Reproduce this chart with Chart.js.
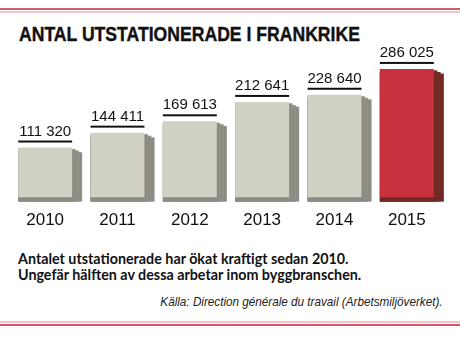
<!DOCTYPE html>
<html>
<head>
<meta charset="utf-8">
<script src="https://cdn.jsdelivr.net/npm/chart.js@4.4.0/dist/chart.umd.min.js"></script>
<style>
  html, body { margin: 0; padding: 0; background: #fff; }
  #wrap { position: relative; width: 460px; height: 337px; overflow: hidden; }
  .rule { position: absolute; left: 0; width: 460px; }
  #title {
    position: absolute; left: 19px; top: 24px; line-height: 20px;
    font-family: "Liberation Sans", Arial, sans-serif;
    font-weight: bold; font-size: 20px; color: #111; white-space: nowrap;
    transform: scaleX(0.88); transform-origin: left top;
    -webkit-text-stroke: 0.4px #111;
  }
  #chartBox { position: absolute; left: 0; top: 20px; width: 460px; height: 218px; }
  #note {
    position: absolute; left: 18px; top: 251px; line-height: 15.5px;
    font-family: Lato, sans-serif; font-weight: bold; font-size: 14.3px; color: #111;
  }
  #source {
    position: absolute; right: 17px; top: 294px; line-height: 16px;
    font-family: "Liberation Sans", Arial, sans-serif; font-style: italic;
    font-size: 13px; color: #222; white-space: nowrap;
    transform: scaleX(0.9); transform-origin: right top;
  }
</style>
</head>
<body>
<div id="wrap">
  <div class="rule" style="top:8px;height:1.5px;background:#cf5d69"></div>
  <div class="rule" style="top:11px;height:1.5px;background:#f2c3c9"></div>
  <div id="title">ANTAL UTSTATIONERADE I FRANKRIKE</div>
  <div id="chartBox"><canvas id="c"></canvas></div>
  <div id="note">Antalet utstationerade har ökat kraftigt sedan 2010.<br>Ungefär hälften av dessa arbetar inom byggbranschen.</div>
  <div id="source">Källa: Direction générale du travail (Arbetsmiljöverket).</div>
  <div class="rule" style="top:321px;height:1.5px;background:#f2c3c9"></div>
  <div class="rule" style="top:324px;height:1.5px;background:#cf5d69"></div>
</div>
<script>
const years = ['2010', '2011', '2012', '2013', '2014', '2015'];
const counts = [111320, 144411, 169613, 212641, 228640, 286025];
const countLabels = ['111 320', '144 411', '169 613', '212 641', '228 640', '286 025'];
const faceColors = ['#d1d0c4', '#d1d0c4', '#d1d0c4', '#d1d0c4', '#d1d0c4', '#c8323f'];
const backColors = ['#8c8b81', '#8c8b81', '#8c8b81', '#8c8b81', '#8c8b81', '#6e2a22'];
const edgeColors = ['#9d9c92', '#9d9c92', '#9d9c92', '#9d9c92', '#9d9c92', '#82332a'];

// stacked "pages" behind each bar
const pageShadow = {
  id: 'pageShadow',
  beforeDatasetsDraw(chart) {
    const ctx = chart.ctx;
    chart.getDatasetMeta(0).data.forEach((bar, i) => {
      const p = bar.getProps(['x', 'y', 'base', 'width'], true);
      const left = p.x - p.width / 2, right = p.x + p.width / 2;
      ctx.save();
      for (let k = 3; k >= 1; k--) {
        const r = right + k * 3.3;
        const t = p.y + k * 1.6;
        ctx.fillStyle = backColors[i];
        ctx.fillRect(left, t, r - left, p.base + 4 - t);
        ctx.strokeStyle = edgeColors[i];
        ctx.lineWidth = 0.6;
        ctx.beginPath();
        ctx.moveTo(r - 3.3, t + 0.3);
        ctx.lineTo(r, t + 0.3);
        ctx.moveTo(r - 0.3, t);
        ctx.lineTo(r - 0.3, p.base + 4);
        ctx.stroke();
      }
      ctx.restore();
    });
  },
  afterDatasetsDraw(chart) {
    const ctx = chart.ctx;
    chart.getDatasetMeta(0).data.forEach((bar, i) => {
      const p = bar.getProps(['x', 'y', 'base', 'width'], true);
      const left = p.x - p.width / 2, right = p.x + p.width / 2;
      ctx.save();
      ctx.fillStyle = '#111';
      ctx.fillRect(left, p.y - 7, right - left, 2);
      ctx.font = '15px "Liberation Sans", Arial, sans-serif';
      ctx.textAlign = 'center';
      ctx.textBaseline = 'alphabetic';
      ctx.fillText(countLabels[i], p.x, p.y - 12);
      ctx.restore();
    });
  }
};

new Chart(document.getElementById('c'), {
  type: 'bar',
  data: {
    labels: years,
    datasets: [{
      data: counts,
      backgroundColor: faceColors,
      borderWidth: 0,
      categoryPercentage: 1,
      barPercentage: 0.746
    }]
  },
  options: {
    responsive: true,
    maintainAspectRatio: false,
    animation: false,
    layout: { padding: { left: 9, right: 17, top: 35, bottom: 2 } },
    plugins: { legend: { display: false }, tooltip: { enabled: false } },
    scales: {
      x: {
        grid: { display: false },
        border: { display: false },
        ticks: {
          color: '#111',
          padding: 5,
          font: { family: '"Liberation Sans", Arial, sans-serif', size: 17 }
        }
      },
      y: { display: false, min: 0, max: 317000 }
    }
  },
  plugins: [pageShadow]
});
</script>
</body>
</html>
